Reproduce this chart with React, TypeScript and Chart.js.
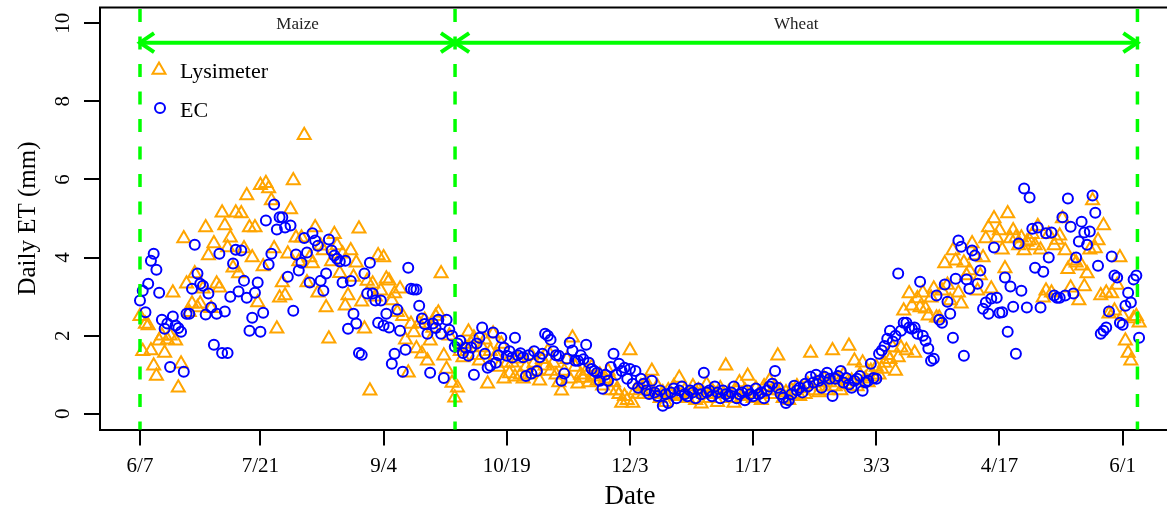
import React, { useEffect, useRef } from "react";
import { Chart, registerables } from "chart.js";

Chart.register(...registerables);

// Date axis: day index counted from 6/7
const dateTickDays = [0, 44, 89, 134, 179, 224, 269, 314, 359];
const dateTickLabels = ["6/7", "7/21", "9/4", "10/19", "12/3", "1/17", "3/3", "4/17", "6/1"];
const etTicks = [0, 2, 4, 6, 8, 10];

// Season boundaries (day index) and names
const seasonEdges = [0, 115.1, 364.4];
const seasonNames = ["Maize", "Wheat"];
const arrowLevel = 9.5; // mm, height of the season arrows

// Daily ET (mm), lysimeter, maize season (day 0-115)
const lysimeterMaize = [
  2.5, 1.6, 2.3, 2.26, 1.62, 1.23, 0.97, 1.87, 2.0, 1.56,
  1.9, 2.0, 3.1, 1.87, 0.67, 1.28, 4.49, 3.33, 2.6, 2.82,
  3.59, 2.72, 2.82, 3.2, 4.77, 4.05, 2.7, 4.36, 3.33, 3.23,
  5.15, 4.82, 4.26, 4.51, 3.74, 5.15, 3.59, 5.13, 4.23, 5.59,
  4.77, 4.0, 4.77, 2.85, 5.85, 3.77, 5.9, 5.77, 5.46, 4.23,
  2.18, 2.97, 3.36, 3.03, 4.1, 5.23, 5.97, 4.51, 3.9, 4.51,
  7.13, 3.36, 4.0, 3.85, 4.77, 3.1, 4.3, 4.18, 2.72, 1.92,
  3.9, 4.6, 4.31, 3.6, 4.1, 2.77, 3.03, 4.18, 3.5, 3.87,
  4.74, 2.87, 2.18, 3.4, 0.59, 3.33, 3.0, 4.05, 3.15, 4.0,
  3.46, 3.41, 2.9, 3.08, 2.6, 3.2, 2.5, 1.9, 1.05, 2.3,
  2.08, 1.67, 2.31, 1.54, 2.4, 1.36, 1.87, 2.2, 2.5, 2.59,
  3.59, 1.49, 1.15, 2.0, 0.79, 0.41,
];

// Daily ET (mm), lysimeter, wheat season (day 116-365)
const lysimeterWheat = [
  0.67, 1.6, 1.44, 1.7,
  2.1, 1.79, 1.95, 1.5, 1.36, 1.7, 1.9, 0.77, 1.6, 2.05,
  1.5, 1.2, 1.79, 0.9, 1.3, 1.03, 1.31, 0.95, 1.41, 1.0,
  0.9, 1.2, 1.0, 1.5, 1.3, 1.1, 0.85, 1.4, 1.23, 1.6,
  1.1, 1.3, 1.0, 0.8, 0.59, 1.1, 1.4, 0.9, 1.95, 1.2,
  0.77, 1.0, 0.92, 1.1, 0.8, 1.2, 0.95, 0.85, 1.0, 0.72,
  0.9, 1.1, 0.6, 0.8, 0.6, 0.5, 0.28, 0.45, 0.35, 1.62,
  0.28, 0.6, 0.51, 0.7, 0.5, 0.8, 0.6, 1.1, 0.5, 0.7,
  0.4, 0.55, 0.3, 0.6, 0.5, 0.7, 0.45, 0.92, 0.5, 0.6,
  0.4, 0.55, 0.7, 0.35, 0.6, 0.26, 0.5, 0.75, 0.4, 0.6,
  0.5, 0.3, 0.65, 0.5, 1.23, 0.55, 0.4, 0.28, 0.6, 0.8,
  0.45, 0.6, 0.97, 0.5, 0.4, 0.65, 0.5, 0.35, 0.7, 0.6,
  0.85, 0.5, 0.7, 1.49, 0.6, 0.4, 0.55, 0.35, 0.6, 0.5,
  0.7, 0.45, 0.65, 0.5, 0.75, 1.56, 0.6, 0.8, 0.55, 0.7,
  0.9, 0.6, 0.8, 1.62, 0.7, 0.9, 0.6, 1.0, 0.75, 1.74,
  0.85, 1.36, 0.7, 1.0, 1.31, 0.9, 0.8, 1.1, 0.95, 1.2,
  1.0, 1.15, 1.3, 1.5, 1.4, 1.7, 1.1, 1.44, 1.69, 2.64,
  1.62, 3.08, 2.77, 1.56, 2.95, 2.72, 3.1, 2.69, 2.51, 2.97,
  3.2, 2.46, 2.46, 3.15, 3.85, 3.3, 2.9, 4.18, 3.92, 3.1,
  2.82, 3.87, 3.54, 3.67, 4.36, 4.05, 3.15, 3.54, 4.0, 4.49,
  4.77, 3.2, 5.0, 4.5, 4.69, 4.2, 3.72, 5.13, 4.49, 4.69,
  4.51, 4.31, 4.51, 4.18, 4.4, 4.44, 4.6, 4.31, 4.8, 4.2,
  2.97, 3.15, 4.6, 3.1, 4.31, 4.45, 4.56, 5.0, 4.18, 3.7,
  3.23, 3.92, 3.87, 2.9, 3.79, 3.26, 3.59, 4.2, 5.46, 4.23,
  4.44, 3.03, 4.82, 3.1, 2.56, 3.08, 2.64, 3.3, 4.0, 2.51,
  1.87, 1.56, 1.36, 2.44, 2.5, 2.33,
];

// Daily ET (mm), eddy covariance, maize season (day 0-115)
const ecMaize = [
  2.9, 3.15, 2.6, 3.33, 3.92, 4.1, 3.69, 3.1, 2.41, 2.18,
  2.31, 1.2, 2.49, 2.26, 2.2, 2.1, 1.08, 2.56, 2.56, 3.2,
  4.33, 3.59, 3.33, 3.28, 2.54, 3.08, 2.72, 1.77, 2.56, 4.1,
  1.56, 2.62, 1.56, 3.0, 3.85, 4.2, 3.13, 4.18, 3.41, 2.97,
  2.13, 2.46, 3.1, 3.36, 2.1, 2.59, 4.95, 3.82, 4.1, 5.36,
  4.72, 5.03, 5.03, 4.77, 3.51, 4.82, 2.64, 4.08, 3.67, 3.87,
  4.5, 4.13, 3.36, 4.62, 4.44, 4.3, 3.41, 3.15, 3.59, 4.46,
  4.18, 4.05, 3.97, 3.9, 3.36, 3.92, 2.18, 3.4, 2.56, 2.31,
  1.56, 1.51, 3.59, 3.08, 3.87, 3.08, 2.9, 2.33, 2.9, 2.26,
  2.56, 2.21, 1.28, 1.54, 2.67, 2.13, 1.08, 1.64, 3.74, 3.2,
  3.18, 3.18, 2.77, 2.44, 2.3, 2.05, 1.05, 2.31, 2.2, 2.41,
  2.05, 0.92, 2.41, 2.15, 2.0, 1.72,
];

// Daily ET (mm), eddy covariance, wheat season (day 116-365)
const ecWheat = [
  1.8, 1.87, 1.56, 1.69,
  1.49, 1.7, 1.0, 1.8, 1.95, 2.21, 1.54, 1.18, 1.23, 2.08,
  1.31, 1.5, 1.95, 1.69, 1.49, 1.6, 1.44, 1.95, 1.5, 1.55,
  1.45, 0.97, 1.5, 1.03, 1.6, 1.1, 1.45, 1.54, 2.05, 2.0,
  1.9, 1.6, 1.5, 1.49, 0.85, 1.03, 1.41, 1.82, 1.62, 1.36,
  1.36, 1.5, 1.4, 1.77, 1.31, 1.15, 1.1, 1.05, 0.85, 0.64,
  1.0, 0.85, 1.2, 1.54, 1.0, 1.28, 1.1, 1.18, 0.9, 1.15,
  0.77, 1.1, 0.67, 0.9, 0.77, 0.6, 0.51, 0.85, 0.55, 0.46,
  0.6, 0.21, 0.5, 0.28, 0.55, 0.65, 0.4, 0.6, 0.7, 0.5,
  0.45, 0.6, 0.55, 0.4, 0.65, 0.5, 1.05, 0.55, 0.6, 0.45,
  0.7, 0.55, 0.4, 0.6, 0.5, 0.45, 0.55, 0.7, 0.4, 0.5,
  0.55, 0.35, 0.6, 0.5, 0.45, 0.65, 0.5, 0.55, 0.4, 0.6,
  0.7, 0.77, 1.1, 0.67, 0.51, 0.41, 0.28, 0.35, 0.5, 0.72,
  0.6, 0.67, 0.55, 0.77, 0.7, 0.95, 0.8, 1.0, 0.85, 0.67,
  0.95, 1.05, 0.9, 0.46, 0.9, 0.97, 1.1, 0.8, 0.92, 0.75,
  0.67, 0.85, 0.9, 0.97, 0.59, 0.8, 0.85, 1.28, 0.92, 0.9,
  1.54, 1.62, 1.74, 1.92, 2.13, 1.85, 2.0, 3.59, 2.13, 2.33,
  2.33, 2.21, 2.18, 2.21, 2.05, 3.38, 2.0, 1.87, 1.67, 1.36,
  1.41, 3.03, 2.41, 2.33, 3.31, 2.87, 2.56, 1.95, 3.46, 4.44,
  4.28, 1.49, 3.44, 3.2, 4.18, 4.05, 3.33, 3.67, 2.69, 2.85,
  2.56, 2.95, 4.26, 2.97, 2.59, 2.6, 3.49, 2.1, 3.26, 2.74,
  1.54, 4.36, 3.15, 5.77, 2.72, 5.54, 4.74, 3.74, 4.77, 2.72,
  3.64, 4.62, 4.0, 4.64, 3.03, 2.97, 2.97, 5.03, 3.03, 5.51,
  4.79, 3.08, 4.0, 4.41, 4.92, 4.64, 4.33, 4.67, 5.59, 5.15,
  3.79, 2.05, 2.13, 2.21, 2.62, 4.03, 3.54, 3.49, 2.33, 2.28,
  2.77, 3.1, 2.85, 3.44, 3.54, 1.95,
];

const SERIF = '"Liberation Serif", "DejaVu Serif", serif';
const ORANGE = "#FFA500";
const BLUE = "#0000FF";
const GREEN = "#00FF00";

function toPoints(...parts: number[][]) {
  return parts.flat().map((v, i) => ({ x: i, y: v }));
}

function px(scale: any, v: number) {
  return scale.getPixelForValue(v);
}

function strokeTriangle(ctx: CanvasRenderingContext2D, cx: number, cy: number, r: number) {
  ctx.beginPath();
  for (let k = 0; k < 3; k++) {
    const a = (k * 2 * Math.PI) / 3;
    const tx = cx + Math.sin(a) * r;
    const ty = cy - Math.cos(a) * r;
    if (k === 0) ctx.moveTo(tx, ty);
    else ctx.lineTo(tx, ty);
  }
  ctx.closePath();
  ctx.stroke();
}

function arrowHead(ctx: CanvasRenderingContext2D, tipX: number, y: number, dir: number) {
  const len = 17;
  const ang = (34 * Math.PI) / 180;
  ctx.beginPath();
  ctx.moveTo(tipX + dir * len * Math.cos(ang), y - len * Math.sin(ang));
  ctx.lineTo(tipX, y);
  ctx.lineTo(tipX + dir * len * Math.cos(ang), y + len * Math.sin(ang));
  ctx.stroke();
}

const decorations = {
  id: "decorations",
  afterDatasetsDraw(chart: any) {
    const { ctx, chartArea: a, scales } = chart;
    const xs = scales.x;
    const ys = scales.y;
    ctx.save();

    // season boundaries
    ctx.strokeStyle = GREEN;
    ctx.lineWidth = 3.5;
    ctx.lineCap = "butt";
    ctx.setLineDash([13, 14.5]);
    for (const d of seasonEdges) {
      const lx = px(xs, d);
      ctx.beginPath();
      ctx.moveTo(lx, a.top + 1.5);
      ctx.lineTo(lx, a.bottom);
      ctx.stroke();
    }
    ctx.setLineDash([]);

    // season arrows and names
    const ay = ys.getPixelForValue(arrowLevel);
    ctx.lineWidth = 4;
    ctx.lineJoin = "miter";
    for (let i = 0; i < seasonNames.length; i++) {
      const x0 = px(xs, seasonEdges[i]);
      const x1 = px(xs, seasonEdges[i + 1]);
      ctx.beginPath();
      ctx.moveTo(x0, ay);
      ctx.lineTo(x1, ay);
      ctx.stroke();
      arrowHead(ctx, x0, ay, 1);
      arrowHead(ctx, x1, ay, -1);
      ctx.fillStyle = "#222";
      ctx.font = `17px ${SERIF}`;
      ctx.textAlign = "center";
      ctx.textBaseline = "middle";
      ctx.fillText(seasonNames[i], (x0 + x1) / 2, a.top + 17.5);
    }
    ctx.restore();
  },
  afterDraw(chart: any) {
    const { ctx, chartArea: a, scales } = chart;
    const xs = scales.x;
    const ys = scales.y;
    ctx.save();

    // top frame line
    ctx.strokeStyle = "#000";
    ctx.lineWidth = 2;
    ctx.beginPath();
    ctx.moveTo(a.left - 1, a.top);
    ctx.lineTo(a.right, a.top);
    ctx.stroke();

    ctx.fillStyle = "#000";
    // y tick labels (parallel to the axis)
    ctx.font = `21px ${SERIF}`;
    ctx.textAlign = "center";
    ctx.textBaseline = "middle";
    for (const v of etTicks) {
      ctx.save();
      ctx.translate(63, ys.getPixelForValue(v));
      ctx.rotate(-Math.PI / 2);
      ctx.fillText(String(v), 0, 0);
      ctx.restore();
    }
    // x tick labels
    dateTickDays.forEach((d, i) => {
      ctx.fillText(dateTickLabels[i], px(xs, d), 466);
    });
    // axis titles
    ctx.font = `27px ${SERIF}`;
    ctx.fillText("Date", 630, 497);
    ctx.save();
    ctx.font = `25px ${SERIF}`;
    ctx.translate(28, (a.top + a.bottom) / 2);
    ctx.rotate(-Math.PI / 2);
    ctx.fillText("Daily ET (mm)", 0, 0);
    ctx.restore();

    // legend
    ctx.lineWidth = 2;
    ctx.strokeStyle = ORANGE;
    strokeTriangle(ctx, 159, 70, 7.5);
    ctx.strokeStyle = BLUE;
    ctx.beginPath();
    ctx.arc(160, 108, 5, 0, Math.PI * 2);
    ctx.stroke();
    ctx.fillStyle = "#000";
    ctx.font = `22px ${SERIF}`;
    ctx.textAlign = "left";
    ctx.textBaseline = "alphabetic";
    ctx.fillText("Lysimeter", 180, 78);
    ctx.fillText("EC", 180, 116.5);
    ctx.restore();
  },
};

export default function App() {
  const canvasRef = useRef<HTMLCanvasElement | null>(null);

  useEffect(() => {
    const canvas = canvasRef.current;
    if (!canvas) return;
    const axisGrid = {
      display: true,
      drawOnChartArea: false,
      drawTicks: true,
      tickLength: 16,
      color: "#000",
      lineWidth: 2,
    };
    const chart = new Chart(canvas, {
      type: "scatter",
      data: {
        datasets: [
          {
            label: "Lysimeter",
            data: toPoints(lysimeterMaize, lysimeterWheat),
            pointStyle: "triangle",
            pointRadius: 7.5,
            pointBorderWidth: 2,
            pointBorderColor: ORANGE,
            pointBackgroundColor: "rgba(0,0,0,0)",
            showLine: false,
            order: 2,
          },
          {
            label: "EC",
            data: toPoints(ecMaize, ecWheat),
            pointStyle: "circle",
            pointRadius: 5,
            pointBorderWidth: 2,
            pointBorderColor: BLUE,
            pointBackgroundColor: "rgba(0,0,0,0)",
            showLine: false,
            order: 1,
          },
        ],
      },
      options: {
        animation: false,
        responsive: false,
        events: [],
        layout: { autoPadding: false, padding: { top: 7.5, left: 0, right: 0, bottom: 0 } },
        plugins: {
          legend: { display: false },
          tooltip: { enabled: false },
          title: { display: false },
        },
        scales: {
          x: {
            type: "linear",
            min: -14.61,
            max: 375.2,
            ticks: { display: false },
            grid: axisGrid,
            border: { display: true, color: "#000", width: 2 },
            afterBuildTicks: (s: any) => {
              s.ticks = dateTickDays.map((v) => ({ value: v }));
            },
            afterFit: (s: any) => {
              s.height = 79.5;
            },
          },
          y: {
            type: "linear",
            min: -0.4,
            max: 10.4,
            ticks: { display: false },
            grid: axisGrid,
            border: { display: true, color: "#000", width: 2 },
            afterBuildTicks: (s: any) => {
              s.ticks = etTicks.map((v) => ({ value: v }));
            },
            afterFit: (s: any) => {
              s.width = 100;
            },
          },
        },
      },
      plugins: [decorations],
    });
    return () => chart.destroy();
  }, []);

  return (
    <div
      style={{
        position: "fixed",
        left: 0,
        top: 0,
        width: 1167,
        height: 509,
        background: "#fff",
        overflow: "hidden",
      }}
    >
      <canvas ref={canvasRef} width={1167} height={509} style={{ display: "block" }} />
    </div>
  );
}
